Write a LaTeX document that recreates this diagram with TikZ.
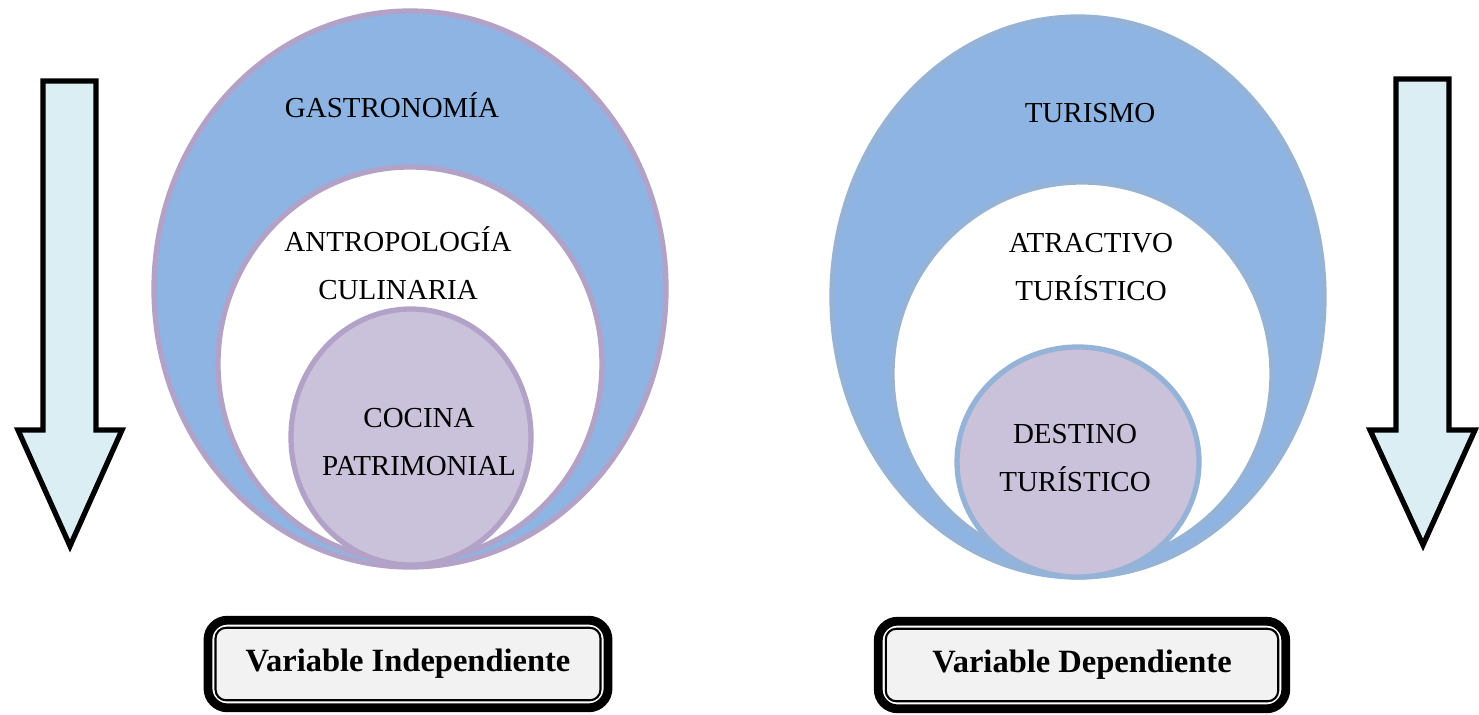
\documentclass[tikz,border=0pt]{standalone}
\usepackage{fontspec}
\setmainfont{Liberation Serif}
\usetikzlibrary{positioning}
\definecolor{azul}{HTML}{8EB4E3}
\definecolor{lila}{HTML}{B3A2C7}
\definecolor{lilaclaro}{HTML}{CAC1DA}
\definecolor{bordeazul}{HTML}{95B3D7}
\definecolor{celeste}{HTML}{DAEEF3}
\definecolor{gris}{HTML}{F2F2F2}
\tikzset{
  etiqueta/.style={font=\fontsize{16.5}{27}\selectfont,align=center},
  cuadro/.style={draw=black,line width=1.2pt,rounded corners=6pt,fill=gris,
    font=\fontsize{18.5}{20}\selectfont\bfseries,minimum height=1.45cm},
  flecha/.style={draw=black,line width=3pt,fill=celeste,line join=miter}
}
\begin{document}
\begin{tikzpicture}[x=0.02cm,y=-0.02cm]
  \useasboundingbox (0,0) rectangle (1479,714);

  % Variable independiente
  \draw[lila,line width=3pt,fill=azul] (410,289) ellipse (256 and 278);
  \draw[lila,line width=3pt,fill=white] (410,364) ellipse (192 and 197);
  \draw[lila,line width=3pt,fill=lilaclaro] (411,437) ellipse (120 and 128);
  \node[etiqueta] (gastro) at (392,105) {GASTRONOMÍA};
  \node[etiqueta] (antro) at (398,263) {ANTROPOLOGÍA\\CULINARIA};
  \node[etiqueta] (cocina) at (419,442) {COCINA\\PATRIMONIAL};

  % Variable dependiente
  \draw[bordeazul,line width=3pt,fill=azul] (1078,297) ellipse (246 and 280);
  \draw[bordeazul,line width=3pt,fill=white] (1082,374) ellipse (190 and 192);
  \draw[bordeazul,line width=3pt,fill=lilaclaro] (1078,462) ellipse (121 and 115);
  \node[etiqueta] (turismo) at (1090,113) {TURISMO};
  \node[etiqueta] (atractivo) at (1091,267) {ATRACTIVO\\TURÍSTICO};
  \node[etiqueta] (destino) at (1075,458) {DESTINO\\TURÍSTICO};

  % Flechas
  \draw[flecha] (43,81) -- (96,81) -- (96,430) -- (122,430) -- (70,546)
    -- (18,430) -- (43,430) -- cycle;
  \draw[flecha] (1396,79) -- (1449,79) -- (1449,430) -- (1475,430) -- (1423,545)
    -- (1370,430) -- (1396,430) -- cycle;

  % Cuadros
  \node[cuadro,minimum width=7.7cm] (indep) at (408,664) {Variable Independiente};
  \draw[line width=5pt,rounded corners=11pt]
    ([shift={(-6.5,-6.5)}]indep.north west) rectangle ([shift={(6.5,6.5)}]indep.south east);
  \node[cuadro,minimum width=7.85cm] (dep) at (1082,665) {Variable Dependiente};
  \draw[line width=5pt,rounded corners=11pt]
    ([shift={(-6.5,-6.5)}]dep.north west) rectangle ([shift={(6.5,6.5)}]dep.south east);
\end{tikzpicture}
\end{document}
